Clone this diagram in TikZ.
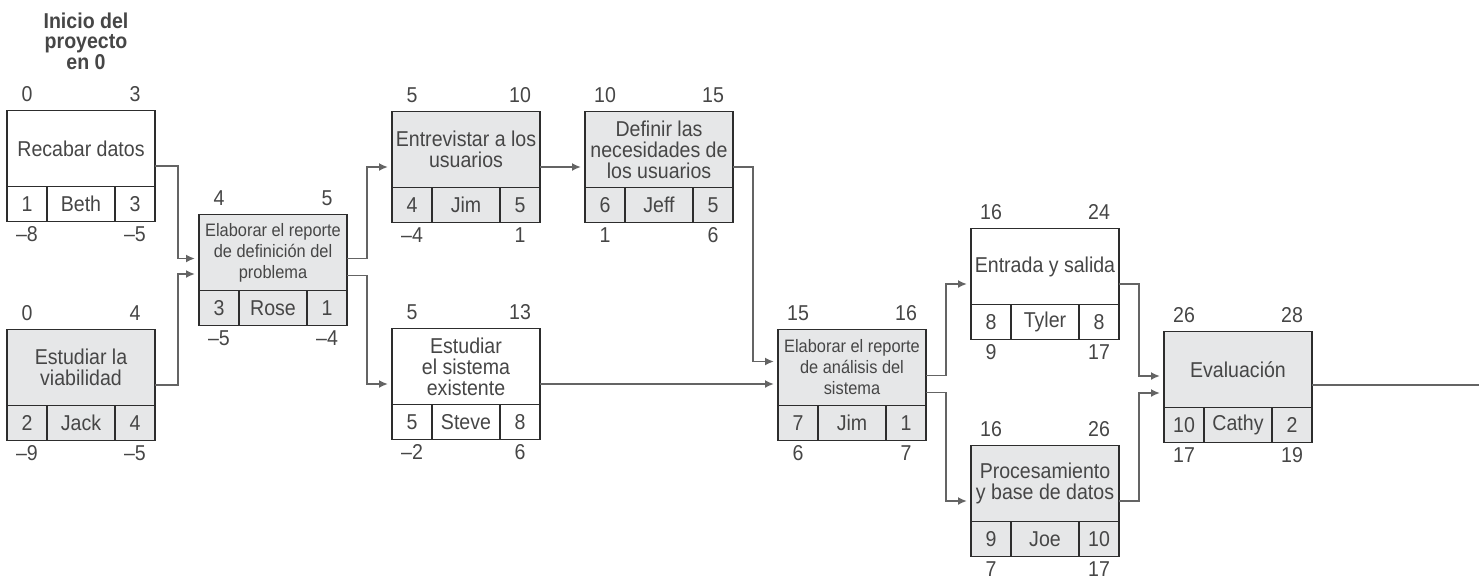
\documentclass[tikz,border=0pt]{standalone}
\usepackage{fontspec}
\setmainfont{Liberation Sans}[FakeStretch=0.91]
\usepackage{xcolor}
\usepackage{tikz}
\usetikzlibrary{arrows.meta,positioning,calc}
\definecolor{critgray}{RGB}{230,231,232}
\definecolor{framegray}{RGB}{45,45,45}
\definecolor{linkgray}{RGB}{100,100,100}
\definecolor{textgray}{RGB}{70,70,70}

\begin{document}
\begin{tikzpicture}[
    x=1pt, y=-1pt,
    every node/.style={inner sep=0pt, outer sep=0pt, text=textgray},
    task/.style={draw=framegray, line width=1.8pt, fill=white, minimum width=148pt, minimum height=111pt},
    crit/.style={task, fill=critgray},
    headline/.style={minimum width=148pt, minimum height=76pt, align=center, font=\fontsize{21.5}{21}\selectfont},
    report/.style={headline, font=\fontsize{18}{21}\selectfont},
    cell/.style={draw=framegray, line width=1.4pt, minimum width=40pt, minimum height=35pt, font=\fontsize{21.5}{21}\selectfont},
    wide/.style={cell, minimum width=68pt},
    stamp/.style={anchor=base, font=\fontsize{21.5}{21}\selectfont},
    link/.style={draw=linkgray, line width=1.8pt, -{Latex[length=9pt,width=8pt]}, shorten >=4pt},
]
    \useasboundingbox (0,0) rectangle (1483,582);
    % Start label
    \node[font=\bfseries\fontsize{21.5}{20.5}\selectfont, align=center] (inicio) at (86,41) {Inicio del\\proyecto\\en 0};
    % Activities
    \foreach \id/\px/\py/\kind/\tfont/\task/\num/\who/\dur/\es/\ef/\ls/\lf in {
        rd/81/166/task/headline/{Recabar datos}/1/Beth/3/0/3/–8/–5,
        vb/81/385/crit/headline/{Estudiar la\\viabilidad}/2/Jack/4/0/4/–9/–5,
        ed/273/270/crit/report/{Elaborar el reporte\\de definición del\\problema}/3/Rose/1/4/5/–5/–4,
        eu/466/167/crit/headline/{Entrevistar a los\\usuarios}/4/Jim/5/5/10/–4/1,
        dn/659/167/crit/headline/{Definir las\\necesidades de\\los usuarios}/6/Jeff/5/10/15/1/6,
        es/466/384/task/headline/{Estudiar\\el sistema\\existente}/5/Steve/8/5/13/–2/6,
        ea/852/385/crit/report/{Elaborar el reporte\\de análisis del\\sistema}/7/Jim/1/15/16/6/7,
        io/1045/284/task/headline/{Entrada y salida}/8/Tyler/8/16/24/9/17,
        pb/1045/501/crit/headline/{Procesamiento\\y base de datos}/9/Joe/10/16/26/7/17,
        eval/1238/387/crit/headline/{Evaluación}/10/Cathy/2/26/28/17/19} {
        \node[\kind] (\id) at (\px,\py) {};
        \node[\tfont, below=0pt of \id.north] (\id-t) {\task};
        \node[cell, anchor=south west] (\id-n) at (\id.south west) {\num};
        \node[wide, right=0pt of \id-n] (\id-w) {\who};
        \node[cell, right=0pt of \id-w] (\id-d) {\dur};
        \node[stamp, yshift=9pt] (\id-es) at (\id-n |- \id.north) {\es};
        \node[stamp, yshift=9pt] (\id-ef) at (\id-d |- \id.north) {\ef};
        \node[stamp, yshift=-20pt] (\id-ls) at (\id-n |- \id.south) {\ls};
        \node[stamp, yshift=-20pt] (\id-lf) at (\id-d |- \id.south) {\lf};
    }
    \coordinate (fin) at (1483,385);
    % Connectors
    \draw[link] (rd.east) -- ++(23,0) |- ([yshift=11.5pt]ed.west);
    \draw[link] (vb.east) -- ++(23,0) |- ([yshift=-4pt]ed.west);
    \draw[link] ([yshift=11.5pt]ed.east) -- ++(20,0) |- (eu.west);
    \draw[link] ([yshift=-5.5pt]ed.east) -- ++(20,0) |- (es.west);
    \draw[link] (eu.east) -- (dn.west);
    \draw[link] (dn.east) -- ++(20,0) |- ([yshift=23.5pt]ea.west);
    \draw[link] (es.east) -- (es.east -| ea.west);
    \draw[link] ([yshift=9.5pt]ea.east) -- ++(20,0) |- (io.west);
    \draw[link] ([yshift=-7.5pt]ea.east) -- ++(20,0) |- (pb.west);
    \draw[link] (io.east) -- ++(20,0) |- ([yshift=11pt]eval.west);
    \draw[link] (pb.east) -- ++(20,0) |- ([yshift=-6pt]eval.west);
    \draw[link, -] (eval.east |- fin) -- (fin);
\end{tikzpicture}
\end{document}
